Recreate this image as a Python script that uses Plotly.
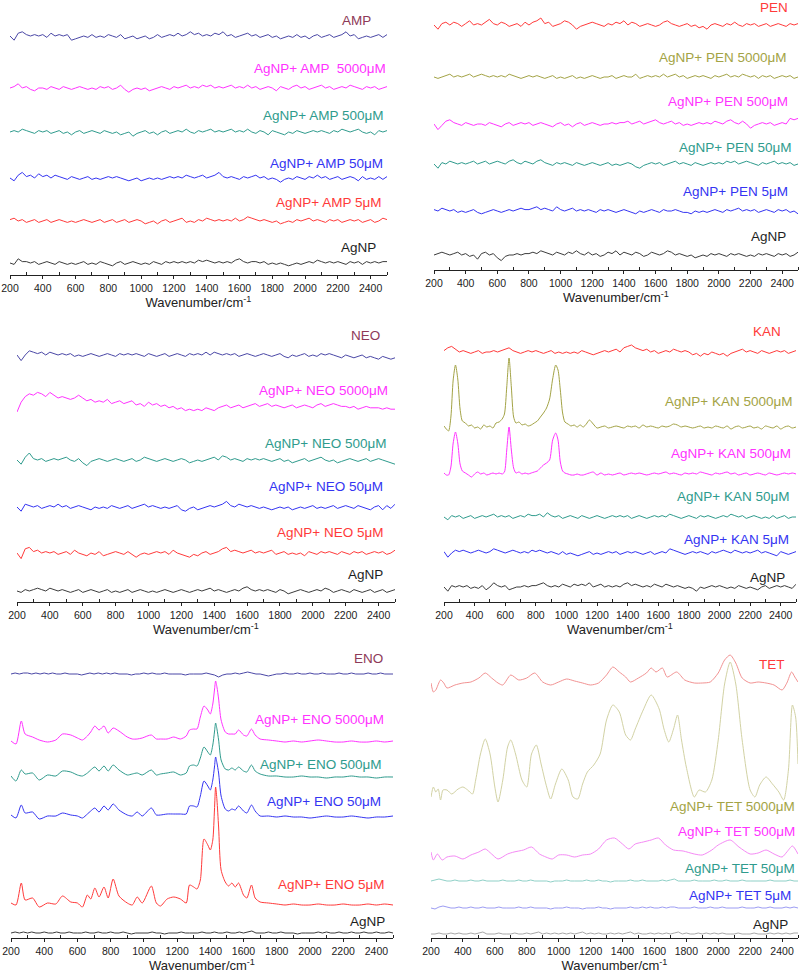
import plotly.graph_objects as go

# ======================= DATA =======================
# Noisy spectra: sampled every 25 cm-1 starting at 200 cm-1 (intensity, arbitrary units)
STEP = 25
X_START = 200
X_RANGE = [200, 2500]
TICK_VALUES = [200, 400, 600, 800, 1000, 1200, 1400, 1600, 1800, 2000, 2200, 2400]
MINOR_TICKS = [300, 500, 700, 900, 1100, 1300, 1500, 1700, 1900, 2100, 2300, 2500]
AXIS_TITLE = "Wavenumber/cm<sup>-1</sup>"

AMP_LABELS = ["AMP", "AgNP+ AMP  5000μM", "AgNP+ AMP 500μM", "AgNP+ AMP 50μM", "AgNP+ AMP 5μM", "AgNP"]
PEN_LABELS = ["PEN", "AgNP+ PEN 5000μM", "AgNP+ PEN 500μM", "AgNP+ PEN 50μM", "AgNP+ PEN 5μM", "AgNP"]
NEO_LABELS = ["NEO", "AgNP+ NEO 5000μM", "AgNP+ NEO 500μM", "AgNP+ NEO 50μM", "AgNP+ NEO 5μM", "AgNP"]
KAN_LABELS = ["KAN", "AgNP+ KAN 5000μM", "AgNP+ KAN 500μM", "AgNP+ KAN 50μM", "AgNP+ KAN 5μM", "AgNP"]
ENO_LABELS = ["ENO", "AgNP+ ENO 5000μM", "AgNP+ ENO 500μM", "AgNP+ ENO 50μM", "AgNP+ ENO 5μM", "AgNP"]
TET_LABELS = ["TET", "AgNP+ TET 5000μM", "AgNP+ TET 500μM", "AgNP+ TET 50μM", "AgNP+ TET 5μM", "AgNP"]

# ---- AMP panel ----
AMP_AMP = [0,-3,2,3, 1,0,1,0, 1,-1,2,0, 1,0,1,-3, -2,-1,0,-1,
           1,-1,0,-1, 1,0,-1,1, -2,-1,0,-2, -1,0,-2,-1, 1,-1,0,1,
           0,2,0,1, 3,1,2,0, 1,0,2,1, 3,0,1,-1, 0,1,2,0,
           1,-1,0,1, -1,0,-2,-1, 0,-1,1,-1, 0,-2,0,1, -1,0,1,-1,
           0,1,3,0, 1,-2,-1,0, -1,0,1,-1, 1]
AMP_5000 = [0,1,3,0, 1,-1,-2,0, 0,-1,1,0, -1,1,0,-1, 0,1,0,-1,
            0,-1,1,0, 1,-1,0,2, -1,-3,-1,0, -1,0,-2,-1, 0,1,0,-1,
            1,0,1,2, 0,1,0,2, 1,2,0,1, 0,1,2,0, 1,0,2,0,
            1,-1,0,1, 0,-2,1,0, -1,1,2,0, 1,-1,0,1, 2,0,1,-1,
            0,1,0,2, 1,0,-1,1, 0,1,-1,0, 1]
AMP_500 = [0,1,0,2, 1,0,-1,1, 0,1,-1,0, 1,-1,0,-2, 0,1,-1,0,
           1,0,-1,1, 0,-1,0,-2, -1,0,-3,-1, 0,1,-1,0, -2,0,1,-1,
           0,1,0,2, 0,-1,1,0, 1,2,0,1, 0,1,2,0, 1,0,2,0,
           -1,1,0,-2, 1,0,-1,-2, 0,-1,1,0, -1,0,1,0, 1,0,-1,1,
           0,2,1,0, 1,2,0,-1, 0,-2,1,0, 1]
AMP_50 = [0,-2,2,4, 1,2,0,3, 1,2,0,2, 1,0,-1,1, 0,-1,0,1,
          -1,0,-1,0, 1,0,1,0, -1,-2,-1,0, -2,-1,0,-1, 0,-1,0,1,
          0,1,0,2, 1,0,1,2, 0,1,2,4, 1,0,1,0, -1,1,0,1,
          2,0,1,-1, 0,-1,-3,-1, 0,-1,1,0, -1,1,0,2, 0,1,-1,0,
          1,-1,0,1, 0,-2,1,-1, 0,-1,1,-1, 1]
AMP_5 = [1,2,0,1, -1,0,1,-1, 0,1,-1,0, 1,0,-1,0, -1,0,1,0,
         -1,0,1,-1, 0,1,-1,0, 1,-1,0,1, 0,-2,-1,0, -2,0,1,-1,
         0,1,2,-1, 0,-1,1,0, 2,1,0,1, 0,1,0,2, 0,1,3,2,
         1,0,1,0, -1,0,-2,-1, 0,-1,1,0, 1,2,0,1, 0,-1,1,0,
         1,-1,0,1, 0,1,-1,0, 1,-1,0,2, 1]
AMP_AGNP = [0,-1,3,1, 1,0,1,-1, 0,1,0,-1, 1,0,-1,0, -1,0,1,-1,
            0,-1,1,0, -1,-2,0,1, -1,0,1,0, -1,0,-1,1, 0,-1,1,0,
            1,0,1,0, 1,0,2,1, 2,1,0,1, 0,1,0,2, 3,1,0,1,
            1,0,1,-1, 0,-1,0,-1, -2,-1,0,-1, 0,1,0,2, 1,0,1,0,
            1,0,-1,1, 0,1,-1,1, 0,1,0,1, 1]

# ---- PEN panel ----
PEN_PEN = [0,-3,1,2, 0,2,1,-1, 1,3,0,1, 0,2,4,1, 0,2,1,-1,
           0,1,-1,2, 0,2,3,5, 1,2,-1,0, 1,3,2,0, -3,-1,0,1,
           2,1,0,-1, 1,0,2,1, 3,0,2,1, -1,0,1,0, -1,0,2,3,
           1,0,-1,0, 1,-1,0,-2, -1,-3,0,1, 0,-1,1,0, 2,0,-1,1,
           0,1,-1,0, 1,-1,0,1, 0,-1,1,0, 1]
PEN_5000 = [0,-1,0,1, 2,0,1,0, 1,2,0,1, 2,1,0,1, 0,1,0,2,
            1,0,-1,0, 1,0,1,0, -1,0,1,-1, 0,-1,0,1, -1,0,-1,0,
            1,0,-1,0, 0,1,-1,0, 1,0,0,2, -1,0,1,0, 1,0,2,0,
            1,2,0,1, -1,0,1,0, 1,0,-1,1, 0,1,2,0, 1,0,2,1,
            0,1,-1,1, 0,1,-1,0, 1,0,1,-1, 0]
PEN_500 = [0,-4,-1,2, 3,1,0,-1, 1,0,-1,0, 0,-1,1,0, -1,-2,0,1,
           -1,0,1,0, 1,-1,0,1, 0,-1,-2,0, 1,-1,0,-2, 0,1,-1,0,
           1,0,-1,0, 0,1,0,1, 1,2,0,1, 2,0,1,2, 3,1,0,1,
           2,0,1,-1, 0,-1,0,1, 0,1,0,2, 1,0,2,3, 1,0,2,0,
           -3,-1,0,1, 0,1,-1,0, 1,0,4,3, 4]
PEN_50 = [0,-3,1,0, 2,1,0,1, 0,1,2,0, 1,2,0,1, 2,1,0,2,
          3,1,0,2, 1,0,2,3, 1,0,-1,1, 0,1,0,-1, 1,0,-1,0,
          1,0,-1,0, 1,-1,0,-1, 0,1,0,-2, -3,-1,0,1, 0,1,-1,0,
          1,2,0,1, 0,-1,1,0, -1,0,1,0, 1,0,2,1, 2,0,1,2,
          1,0,-1,1, 0,1,2,0, 1,0,1,-1, 0]
PEN_5 = [1,0,2,1, 0,1,-1,0, -1,0,1,-1, -2,-1,0,1, 0,-1,0,1,
         0,1,2,1, 1,2,3,1, 2,1,0,3, 1,0,1,2, 0,1,0,1,
         0,-1,1,0, 1,0,-1,0, 1,0,-1,-2, 0,-1,0,1, 0,-1,1,0,
         0,1,0,-1, -1,-2,0,-1, 0,-1,0,1, 0,-1,1,0, 1,2,0,1,
         0,1,-1,0, 1,0,-1,1, 0,1,-1,0, -2]
PEN_AGNP = [0,1,2,1, 0,1,2,0, 1,-1,0,-3, 1,2,0,1, -2,-4,-1,0,
            0,1,0,1, 1,2,1,3, 2,1,0,2, 1,0,2,1, 3,1,0,2,
            0,1,-1,0, 2,1,3,0, 2,1,0,2, 1,-1,0,2, 1,0,1,3,
            2,0,1,0, -1,0,-2,-1, 0,-1,1,0, 1,0,-1,1, 0,1,0,-1,
            0,-1,1,0, 1,0,-1,1, 0,1,-1,0, 2]

# ---- NEO panel ----
NEO_NEO = [0,-4,0,3, 2,1,2,0, 2,1,0,1, 0,1,-1,0, -1,0,1,0,
           -1,0,1,0, -1,1,0,1, 0,1,0,-1, 1,0,-1,0, 1,-1,0,1,
           0,-1,1,0, 1,0,2,0, 2,1,0,1, 0,1,-1,0, 1,0,-1,0,
           1,0,-1,0, 1,-1,-2,0, -1,0,1,-1, 0,-1,1,0, 1,0,-1,-2,
           0,-1,-2,-1, 0,-2,-1,-2, -3,-1,-2,-3, -2]
NEO_5000 = [-5,2,6,8, 7,9,8,6, 9,7,5,6, 5,4,5,7, 5,3,4,2,
            3,2,4,1, 2,3,1,2, 3,0,1,-1, 2,0,1,-1, 0,-2,-1,-3,
            -2,-4,-3,-4, -3,-4,-2,-3, -4,-2,-1,0, -2,-1,0,-2, -1,0,1,-1,
            0,1,-1,0, -1,-2,-1,0, -2,-1,0,-1, -2,0,1,-1, 0,1,0,-1,
            -1,-2,-1,-3, -2,-1,-2,-2, -2,-3,-2,-3, -3]
NEO_500 = [0,-3,2,5, 1,0,1,-1, 0,1,0,1, 2,0,-1,1, -2,-4,-1,0,
           1,0,-1,0, 1,0,-1,0, 1,-1,0,2, 1,0,-1,0, 1,0,-1,0,
           1,0,-2,-1, 0,-1,0,1, 2,0,3,2, 0,1,0,-1, 1,0,1,0,
           1,0,-1,0, 1,-1,0,-2, -1,0,1,-1, 0,1,2,0, -1,0,-2,-1,
           0,1,0,-1, 0,1,-1,0, 1,0,-1,-2, -3]
NEO_50 = [0,-3,2,1, 0,1,-1,0, 1,0,2,0, 1,-1,0,1, 0,-1,-2,0,
          -1,0,-1,1, 0,-1,0,1, -1,0,1,2, 0,1,0,-1, 0,-1,0,1,
          -2,-3,-1,0, -2,-1,0,1, 0,1,2,4, 1,0,2,1, 0,1,0,-1,
          0,-1,-2,-1, 0,-1,0,-2, -1,0,-1,0, 1,-1,0,-1, 0,1,-1,0,
          1,0,-1,1, 0,-1,-2,0, 1,-2,1,-1, 2]
NEO_5 = [0,-4,3,4, 1,2,0,1, 0,1,-1,0, 1,-1,2,0, -1,-2,0,-1,
         1,-2,-1,0, 1,0,-1,1, -1,-3,-1,0, -1,0,1,0, 1,-1,2,0,
         -1,-2,-3,-1, -2,0,1,-1, 0,1,3,4, 1,2,1,0, 1,2,0,1,
         0,1,2,-1, 0,1,-1,0, -1,0,-2,1, 0,-1,1,0, 1,0,-1,1,
         0,-1,1,0, 1,-1,0,1, 0,1,-1,0, 2]
NEO_AGNP = [0,-1,1,0, 1,2,1,0, 2,1,0,1, 0,-1,0,1, -1,0,1,0,
            -1,0,1,-1, 0,-1,0,1, -1,0,1,0, -1,0,-1,0, 1,0,-1,0,
            1,0,-1,0, 1,0,1,2, 0,1,0,-1, 0,1,0,2, 3,1,0,1,
            0,1,0,-1, 1,0,-2,-1, 0,1,0,-1, 0,1,0,2, 1,-1,0,1,
            0,-1,1,0, -1,0,1,-1, 0,1,-1,0, 1]

# ---- KAN panel ----
KAN_KAN = [1,3,4,2, 0,1,0,-1, 0,1,-1,0, 0,1,0,1, 2,3,1,0,
           -1,0,1,0, 1,0,-1,0, 1,-1,0,-1, 0,-1,0,-1, 1,0,-1,-2,
           -1,0,1,0, 1,2,0,3, 4,5,3,2, 1,2,0,1, -1,0,1,0,
           2,1,0,1, 0,-2,-1,-3, -1,-2,0,-1, -2,-1,-3,-1, 0,1,2,0,
           1,0,-1,1, 0,-1,0,1, 0,1,-1,0, 1]
KAN_5000_X = [200,215,230,245,260,275,290,305,320,340,360,380,400,420,440,460,480,500,520,540,
              560,580,595,610,625,640,655,670,690,710,730,750,770,790,810,830,850,870,890,910,
              930,945,960,975,990,1010,1030,1050,1070,1090,1110,1130,1150,1175,1200]
KAN_5000_Y = [1,-2,-4,10,47,62,48,18,6,4,1,2,-1,0,-2,2,0,1,-1,4,
              5,8,13,40,69,40,10,4,5,2,3,1,2,4,6,10,14,19,28,48,
              62,57,37,14,5,3,1,2,0,2,0,3,7,3,-1]
KAN_5000_TAIL = [0,1,-1,0, 1,0,-1,1, 0,1,-1,2, 0,1,0,-1, 1,0,1,3, 2,0,1,0,
                 -1,0,1,-1, 0,-1,1,0, -1,1,-2,0, 1,-1,0,1, -1,0,-2,1, 0,-1,1,-2, 0,1,-1,0]
KAN_500_X = KAN_5000_X
KAN_500_Y = [1,-1,-1,7,31,42,31,10,3,1,-1,-3,0,2,0,1,-1,0,1,0,
             1,0,2,24,47,24,6,1,2,0,1,0,1,2,3,6,9,11,14,34,
             41,34,12,3,1,0,-1,-1,0,-1,-1,0,1,2,-1]
KAN_500_TAIL = [1,-1,0,-1, 0,1,-1,0, 1,0,1,0, -1,0,1,0, 1,2,0,1, 0,-1,1,0,
                1,0,2,1, 0,-1,1,0, 1,2,0,1, -1,0,1,-1, 0,1,0,-1, 1,0,-1,0, 1,0,1,0]
TAIL_START = 1225
KAN_50 = [0,-2,1,0, 1,-1,0,1, -1,0,1,0, 1,2,0,1, 0,1,-1,0,
          1,0,2,1, 1,2,0,3, 1,0,1,-1, 0,1,0,-1, 1,0,-1,0,
          1,0,-1,0, 1,0,1,0, 1,-1,0,1, 0,-1,0,1, 0,1,0,2,
          1,0,-1,0, 1,0,-1,1, 0,1,0,-1, 0,1,0,2, 1,0,1,-1,
          0,1,0,-1, 0,-1,1,-1, 0,1,-1,0, 0]
KAN_5 = [1,-3,0,2, 1,2,1,0, 1,2,1,0, 1,3,2,1, 0,1,2,1,
         0,1,0,2, 1,2,1,0, 1,0,-1,1, -1,0,-1,-2, -1,0,1,-1,
         0,-1,0,1, 0,1,-1,0, 1,0,1,0, -1,0,1,-1, 0,1,0,3,
         2,1,0,-1, 0,1,0,1, 0,-1,1,0, 1,2,1,0, 2,1,0,1,
         0,1,2,0, 1,0,-1,-2, 1,0,-1,0, 1]
KAN_AGNP = [0,-3,1,0, 1,0,1,-1, 0,-1,1,-2, 0,3,1,0, 1,-2,-1,0,
            0,1,0,1, 1,2,3,1, 0,1,0,2, 1,0,2,1, 2,1,3,0,
            1,2,0,1, 0,1,0,2, 3,1,2,1, 0,1,0,2, 1,0,2,1,
            0,1,0,-1, 0,-1,-3,0, -1,0,1,0, 1,0,-1,0, -1,1,0,-1,
            0,-1,-2,0, 1,-1,0,1, 0,1,0,-1, 2]

# ---- ENO panel ----
ENO_ENO = [0,1,0,1, 1,0,1,0, 1,0,1,0, 0,1,0,0, 0,-1,0,1,
           0,1,0,1, 0,1,0,0, 0,-1,0,0, 1,0,1,0, 0,1,0,0,
           0,0,-1,0, 0,0,0,1, 0,-1,-3,-1, 0,0,1,0, 1,2,1,0,
           0,-1,-2,-1, 0,0,1,0, 0,1,0,0, 1,0,0,1, 0,0,0,1,
           0,0,1,0, 0,0,1,0, 0,1,0,0, 0]
ENO_X = [200,230,262,285,330,370,420,470,510,560,600,630,660,680,705,730,760,785,815,850,
         900,930,960,990,1045,1075,1100,1140,1180,1220,1255,1275,1300,1320,1340,1362,1385,1400,1415,1425,
         1432,1440,1450,1465,1490,1510,1530,1550,1570,1600,1620,1648,1670,1700,1750,
         1800,1850,1900,1950,2000,2050,2100,2150,2200,2250,2300,2350,2400,2450,2500]
ENO_5000 = [1,-2,21,8,5,2,0,2,8,7,4,2,6,10,16,12,16,9,14,11,
            5,3,3,4,7,3,3,3,5,3,6,12,13,13,25,36,32,28,38,52,
            61,55,43,22,10,8,8,8,12,7,6,13,7,3,2,
            1,0,1,0,1,2,1,0,0,1,0,0,1,0,1]
ENO_500 = [1,-4,7,3,4,-3,2,1,6,5,2,1,4,7,10,6,11,6,12,7,
           2,3,4,2,7,2,3,4,5,2,4,11,12,11,19,30,25,22,32,45,
           54,48,37,17,8,7,9,7,10,6,5,12,6,3,1,
           1,0,0,1,0,0,-1,0,0,1,0,0,-1,0,0]
ENO_50 = [2,-1,12,4,5,-2,1,1,4,2,1,-1,3,6,9,5,11,7,13,7,
          2,1,5,1,9,2,2,3,3,3,3,11,11,10,21,36,31,27,37,50,
          60,54,44,21,8,6,8,7,11,6,4,12,6,1,1,
          0,1,0,0,-1,0,1,0,0,1,0,-1,0,0,1]
ENO_5 = [2,0,22,5,7,-2,2,1,9,3,2,-2,10,6,17,8,18,7,26,9,
         2,0,8,2,19,2,-1,6,8,6,2,20,18,16,25,66,60,55,65,95,
         118,105,78,35,23,19,22,18,22,10,7,20,7,3,2,
         1,0,1,0,0,1,0,0,1,0,0,1,0,1,0]
ENO_AGNP = [0,1,0,1, 0,1,0,0, 1,0,0,1, 0,0,1,0, 0,0,1,0,
            0,1,0,0, 1,0,0,1, 0,-1,0,0, 0,0,1,0, 0,-1,0,0,
            0,1,0,0, 0,0,1,0, 0,1,0,0, 1,0,0,1, 0,1,2,0,
            0,0,1,0, 0,1,0,0, 0,-1,0,0, 0,0,1,0, 1,0,0,1,
            0,0,1,0, 0,1,0,0, 1,0,0,1, 0]

# ---- TET panel ----
TET_TET_X = [200,215,230,260,280,300,350,400,450,500,540,580,620,650,700,750,800,850,900,950,
             1000,1050,1100,1150,1200,1250,1300,1340,1380,1420,1450,1500,1550,1580,1610,1650,1680,1740,1790,1850,
             1900,1950,2000,2040,2075,2110,2150,2200,2250,2300,2350,2400,2430,2460,2480,2500]
TET_TET = [2,-7,-5,5,2,-3,0,2,3,7,12,7,2,0,10,5,7,12,3,0,
           3,6,4,2,0,2,10,18,13,8,3,7,12,17,13,17,8,13,5,2,
           2,3,12,25,30,22,7,2,3,2,0,-5,2,13,8,3]
TET_5000_X = [200,215,230,245,260,275,300,330,370,400,430,460,480,510,540,570,600,620,650,680,
              700,730,770,800,830,860,890,920,950,980,1020,1060,1090,1120,1150,1180,1220,1260,1300,1340,
              1380,1420,1450,1480,1530,1580,1630,1660,1690,1720,1745,1770,1800,1850,1880,1920,1960,2000,2040,2075,
              2110,2150,2200,2230,2260,2300,2340,2380,2410,2440,2465,2485,2500]
TET_5000 = [0,10,5,8,-3,7,7,3,8,10,7,3,17,43,58,43,10,-5,17,50,
            57,43,17,10,43,52,33,13,-2,13,28,17,0,-2,13,25,32,43,77,92,
            85,62,57,68,87,102,88,68,55,68,82,57,30,0,7,5,17,57,113,135,
            113,57,7,0,12,20,13,5,-3,27,92,80,33]
TET_500_X = [200,215,240,270,300,350,400,450,500,540,580,620,680,720,780,830,880,920,960,1000,
             1050,1100,1150,1200,1250,1300,1350,1400,1440,1480,1530,1580,1625,1670,1720,1780,1850,1900,1960,2000,
             2075,2130,2200,2250,2300,2350,2400,2430,2465,2500]
TET_500 = [5,-3,3,-3,0,1,-2,2,5,8,3,-2,3,5,7,10,3,0,-2,2,
           2,0,2,3,8,17,19,13,8,13,15,17,19,12,7,6,3,2,7,12,
           17,10,3,4,7,3,0,5,11,3]
TET_50 = [0,1,2,1, 0,0,1,0, 0,0,1,0, 0,1,0,0, 0,0,1,0,
          0,0,1,0, 0,1,0,0, 0,0,-1,0, 0,0,1,0, 0,0,0,1,
          0,0,1,0, 0,-1,0,0, 0,0,1,0, 0,1,0,0, 0,0,1,0,
          1,2,0,0, 0,0,1,0, 0,0,0,1, 0,0,1,0, 0,0,1,0,
          0,0,0,0, 0,1,0,0, 0,0,1,0, 0]
TET_5 = [0,-1,1,2, 1,0,0,1, 0,0,1,0, 0,1,0,0, 0,1,0,0,
         0,0,1,0, 0,1,0,0, 0,0,-1,0, 0,0,1,0, 0,0,-1,0,
         0,0,1,0, 0,-1,0,0, 0,0,1,0, 0,1,0,1, 0,0,1,0,
         1,1,0,0, 0,0,1,0, 0,0,1,0, 0,1,0,0, 0,0,1,0,
         0,0,1,0, 0,1,0,0, 0,1,0,1, 0]
TET_AGNP = [0,0,1,0, 0,1,0,1, 0,0,1,0, 1,2,0,0, 0,1,0,0,
            0,1,0,0, 1,0,1,2, 0,1,0,1, 0,1,0,1, 0,1,2,0,
            1,0,1,0, 0,1,0,1, 0,1,2,0, 1,0,0,1, 0,1,0,1,
            0,1,2,0, 1,0,0,1, 0,1,0,1, 0,1,0,0, 0,1,0,0,
            0,1,0,0, 0,1,0,1, 0,1,0,1, 1]


# ======================= STYLE / LAYOUT =======================
W, H = 800, 978
FONT = "Arial, 'Liberation Sans', sans-serif"

NAVY = "#4a47a6"
MAROON = "#8e3a58"
MAG = "#ff33ff"
TEAL = "#2f9b8d"
BLUE = "#3434f2"
RED = "#ff3a3a"
GRAY = "#3c3c3c"
OLIVE = "#a3a345"
BLACK = "#1e1e1e"
L_RED = "#f29292"
L_OLIVE = "#d2d2a4"
L_MAG = "#f58af5"
L_TEAL = "#8fd0c7"
L_BLUE = "#9c9cf3"
L_GRAY = "#a8a8a8"

NOISE_GAIN = 1.4   # display scale for the noisy spectra (pixels per intensity unit)


def grid(values, start=X_START):
    return [start + STEP * i for i in range(len(values))]


def tail_x(values):
    return [TAIL_START + STEP * i for i in range(len(values))]


# Panel boxes in pixels: left/right of x-axis, top of panel, y of x-axis line
PANELS = [
    dict(x0=10, x1=387, top=0, axis=275),
    dict(x0=434, x1=798, top=0, axis=270),
    dict(x0=17, x1=395, top=320, axis=602),
    dict(x0=444, x1=796, top=320, axis=602),
    dict(x0=11, x1=393, top=640, axis=938),
    dict(x0=431, x1=798, top=640, axis=938),
]

G = NOISE_GAIN
# series: (panel, x, y, baseline offset, gain, color, shape)
SERIES = [
    (0, grid(AMP_AMP), AMP_AMP, 239, G, NAVY, "linear"),
    (0, grid(AMP_5000), AMP_5000, 187, G, MAG, "linear"),
    (0, grid(AMP_500), AMP_500, 143, G, TEAL, "linear"),
    (0, grid(AMP_50), AMP_50, 97, G, BLUE, "linear"),
    (0, grid(AMP_5), AMP_5, 54, G, RED, "linear"),
    (0, grid(AMP_AGNP), AMP_AGNP, 12, G, GRAY, "linear"),

    (1, grid(PEN_PEN), PEN_PEN, 245, G, RED, "linear"),
    (1, grid(PEN_5000), PEN_5000, 193, G, OLIVE, "linear"),
    (1, grid(PEN_500), PEN_500, 146, G, MAG, "linear"),
    (1, grid(PEN_50), PEN_50, 106, G, TEAL, "linear"),
    (1, grid(PEN_5), PEN_5, 59, G, BLUE, "linear"),
    (1, grid(PEN_AGNP), PEN_AGNP, 15, G, GRAY, "linear"),

    (2, grid(NEO_NEO), NEO_NEO, 247, G, NAVY, "linear"),
    (2, grid(NEO_5000), NEO_5000, 197, G, MAG, "linear"),
    (2, grid(NEO_500), NEO_500, 142, G, TEAL, "linear"),
    (2, grid(NEO_50), NEO_50, 95, G, BLUE, "linear"),
    (2, grid(NEO_5), NEO_5, 49, G, RED, "linear"),
    (2, grid(NEO_AGNP), NEO_AGNP, 11, G, GRAY, "linear"),

    (3, grid(KAN_KAN), KAN_KAN, 250, G, RED, "linear"),
    (3, KAN_5000_X + tail_x(KAN_5000_TAIL), KAN_5000_Y + KAN_5000_TAIL, 175, 1, OLIVE, "spline"),
    (3, KAN_500_X + tail_x(KAN_500_TAIL), KAN_500_Y + KAN_500_TAIL, 128, 1, MAG, "spline"),
    (3, grid(KAN_50), KAN_50, 85, G, TEAL, "linear"),
    (3, grid(KAN_5), KAN_5, 49, G, BLUE, "linear"),
    (3, grid(KAN_AGNP), KAN_AGNP, 15, G, GRAY, "linear"),

    (4, grid(ENO_ENO), ENO_ENO, 264, 1, NAVY, "linear"),
    (4, ENO_X, ENO_5000, 196, 1, MAG, "spline"),
    (4, ENO_X, ENO_500, 161, 1, TEAL, "spline"),
    (4, ENO_X, ENO_50, 121, 1, BLUE, "spline"),
    (4, ENO_X, ENO_5, 33, 1, RED, "spline"),
    (4, grid(ENO_AGNP), ENO_AGNP, 5, 1, GRAY, "linear"),

    (5, TET_TET_X, TET_TET, 253, 1, L_RED, "spline"),
    (5, TET_5000_X, TET_5000, 141, 1, L_OLIVE, "spline"),
    (5, TET_500_X, TET_500, 81, 1, L_MAG, "spline"),
    (5, grid(TET_50), TET_50, 57, 1, L_TEAL, "linear"),
    (5, grid(TET_5), TET_5, 30, 1, L_BLUE, "linear"),
    (5, grid(TET_AGNP), TET_AGNP, 4, 1, L_GRAY, "linear"),
]

# labels: (panel, texts, y positions (panel units), right edge px, colors)
LABEL_COLORS_A = [MAROON, MAG, TEAL, BLUE, RED, BLACK]
LABELS = [
    (0, AMP_LABELS, [255, 207, 160, 112, 73, 28], [373, 388, 385, 385, 383, 378], LABEL_COLORS_A),
    (1, PEN_LABELS, [263, 213, 169, 123, 79, 34], [790, 788, 790, 793, 790, 788],
     [RED, OLIVE, MAG, TEAL, BLUE, BLACK]),
    (2, NEO_LABELS, [266, 211, 158, 115, 70, 28], [382, 390, 388, 385, 385, 385], LABEL_COLORS_A),
    (3, KAN_LABELS, [270, 200, 148, 105, 63, 25], [783, 794, 793, 791, 791, 787],
     [RED, OLIVE, MAG, TEAL, BLUE, BLACK]),
    (4, ENO_LABELS, [279, 218, 173, 136, 53, 16], [385, 386, 383, 383, 386, 387], LABEL_COLORS_A),
    (5, TET_LABELS, [273, 131, 106, 69, 42, 13], [787, 797, 797, 797, 793, 790],
     [RED, OLIVE, MAG, TEAL, BLUE, BLACK]),
]


def ax_names(i):
    s = "" if i == 0 else str(i + 1)
    return "x" + s, "y" + s, "xaxis" + s, "yaxis" + s


fig = go.Figure()
for p, xs, ys, off, gain, color, shape in SERIES:
    xr, yr, _, _ = ax_names(p)
    line = dict(color=color, width=1, shape=shape)
    if shape == "spline":
        line["smoothing"] = 0.7
    fig.add_trace(go.Scatter(
        x=xs, y=[v * gain + off for v in ys], xaxis=xr, yaxis=yr, mode="lines",
        line=line, hoverinfo="skip", showlegend=False))

layout = dict(width=W, height=H, margin=dict(l=0, r=0, t=0, b=0, autoexpand=False),
              paper_bgcolor="white", plot_bgcolor="white", showlegend=False,
              font=dict(family=FONT, color="#222"))
annotations = []
for i, p in enumerate(PANELS):
    xr, yr, xk, yk = ax_names(i)
    ph = p["axis"] - p["top"]
    layout[xk] = dict(
        domain=[p["x0"] / W, p["x1"] / W], anchor=yr, range=X_RANGE, automargin=False,
        showline=True, linecolor="#222", linewidth=1, mirror=False,
        showgrid=False, zeroline=False, fixedrange=True,
        tickmode="array", tickvals=TICK_VALUES,
        ticks="outside", ticklen=3, tickwidth=1, tickcolor="#222",
        minor=dict(tickmode="array", tickvals=MINOR_TICKS, ticks="inside",
                   ticklen=3, tickwidth=1, tickcolor="#222", showgrid=False),
        tickfont=dict(family=FONT, size=10.5, color="#222"),
        title=dict(text=AXIS_TITLE, font=dict(family=FONT, size=13, color="#222"), standoff=2),
    )
    layout[yk] = dict(
        domain=[(H - p["axis"]) / H, (H - p["top"]) / H], anchor=xr, automargin=False,
        range=[0, ph], visible=False, fixedrange=True)

for p, texts, ypos, xright, colors in LABELS:
    _, yr, _, _ = ax_names(p)
    for t, yv, xp, c in zip(texts, ypos, xright, colors):
        annotations.append(dict(text=t, xref="paper", yref=yr, x=xp / W, y=yv,
                                xanchor="right", yanchor="middle", showarrow=False,
                                font=dict(family=FONT, size=13.5, color=c)))
layout["annotations"] = annotations
fig.update_layout(**layout)
fig.write_html("out.html", config={"displayModeBar": False},
               post_script="document.body.style.margin='0';document.body.style.padding='0';")
